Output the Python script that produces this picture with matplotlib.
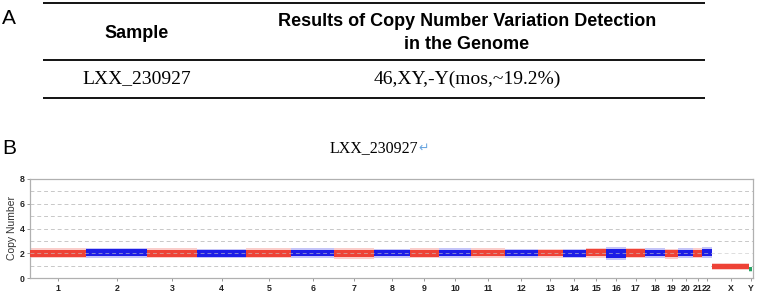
import matplotlib
matplotlib.use("Agg")
import matplotlib.pyplot as plt
import numpy as np

# panel A table
header = ["Sample", "Results of Copy Number Variation Detection\nin the Genome"]
row = ["LXX_230927", "46,XY,-Y(mos,~19.2%)"]

# panel B: chromosomes, sizes (Mb), copy number level and spread
chroms = [str(i) for i in range(1, 23)] + ["X", "Y"]
chrom_mb = [225, 244, 200, 197, 179, 173, 157, 147, 113, 131, 136, 129,
            101, 93, 80, 80, 76, 80, 53, 60, 34, 40, 150, 12]
copy_mean = [2.0, 2.05, 2.0, 1.98, 2.0, 2.02, 1.97, 2.0, 2.0, 2.02, 2.02, 2.0,
             2.0, 1.98, 2.03, 1.98, 2.02, 2.02, 1.95, 2.03, 2.0, 2.05, 0.95, 0.7]
copy_spread = [0.33, 0.33, 0.32, 0.3, 0.32, 0.32, 0.36, 0.3, 0.32, 0.33, 0.33, 0.3,
               0.3, 0.3, 0.34, 0.4, 0.34, 0.32, 0.34, 0.32, 0.32, 0.34, 0.22, 0.18]

RED = "#ee3b2e"
BLUE = "#1414e6"
GREEN = "#22a060"

fig = plt.figure(figsize=(7.59, 2.92), dpi=100)

# overlay in pixel coordinates for table and panel labels
ov = fig.add_axes([0, 0, 1, 1])
ov.set_xlim(0, 759)
ov.set_ylim(292, 0)
ov.axis("off")

sans = "Liberation Sans"
serif = "Liberation Serif"

ov.text(8.5, 18, "A", fontsize=15, family=sans, ha="center", va="center")
ov.text(9, 149, "B", fontsize=15, family=sans, ha="center", va="center")

for y in [2.5, 60, 98]:
  ov.plot([43, 705], [y, y], color="black", lw=1.3, solid_capstyle="butt")

ov.text(137, 33, header[0], fontsize=13, family=sans, weight="bold", ha="center", va="center")
ov.text(467, 33, header[1], fontsize=13, family=sans, weight="bold",
        ha="center", va="center", linespacing=1.45, multialignment="center")
ov.text(137, 79, row[0], fontsize=14, family=serif, ha="center", va="center")
ov.text(467, 79, row[1], fontsize=14, family=serif, ha="center", va="center")

# plot title with return mark
ov.text(418, 148, "LXX_230927", fontsize=11.5, family=serif, ha="right", va="center")
ov.text(418, 148, "\u21b5", fontsize=9, family="DejaVu Sans", color="#6aa6e0", ha="left", va="center")

# copy number plot
ax = fig.add_axes([30 / 759, 1 - 278 / 292, 723 / 759, 99 / 292])
starts = np.concatenate([[0], np.cumsum(chrom_mb)[:-1]])
ends = np.cumsum(chrom_mb)
mids = (starts + ends) / 2

for i, ch in enumerate(chroms):
  if ch == "Y":
    c = GREEN
  elif i % 2 == 0:
    c = RED
  else:
    c = BLUE
  xs = [starts[i], ends[i]]
  m = copy_mean[i]
  s = copy_spread[i]
  ax.fill_between(xs, m - s * 1.25, m + s * 1.25, color=c, alpha=0.25, lw=0, zorder=2)
  ax.fill_between(xs, m - s * 0.85, m + s * 0.85, color=c, alpha=0.95, lw=0, zorder=3)

for y in range(1, 8):
  ax.axhline(y, color="#c8c8c8", lw=0.7, ls=(0, (4, 3)), zorder=4 if y == 2 else 1,
             alpha=0.6 if y == 2 else 1)

ax.set_xlim(0, ends[-1] + 3)
ax.set_ylim(0, 8)
ax.set_yticks([0, 2, 4, 6, 8])
ax.set_xticks(mids)
ax.set_xticklabels(chroms)
ax.tick_params(axis="both", labelsize=6.3, length=2, width=0.6, color="#888888", pad=2)
for lab in ax.get_xticklabels() + ax.get_yticklabels():
  lab.set_fontweight("bold")
  lab.set_family(sans)
  lab.set_color("#222222")
ax.set_ylabel("Copy Number", fontsize=7.5, family=sans, color="#333333", labelpad=2)
for sp in ax.spines.values():
  sp.set_color("#b0b0b0")
  sp.set_linewidth(0.9)

fig.savefig("out.png", dpi=100)
